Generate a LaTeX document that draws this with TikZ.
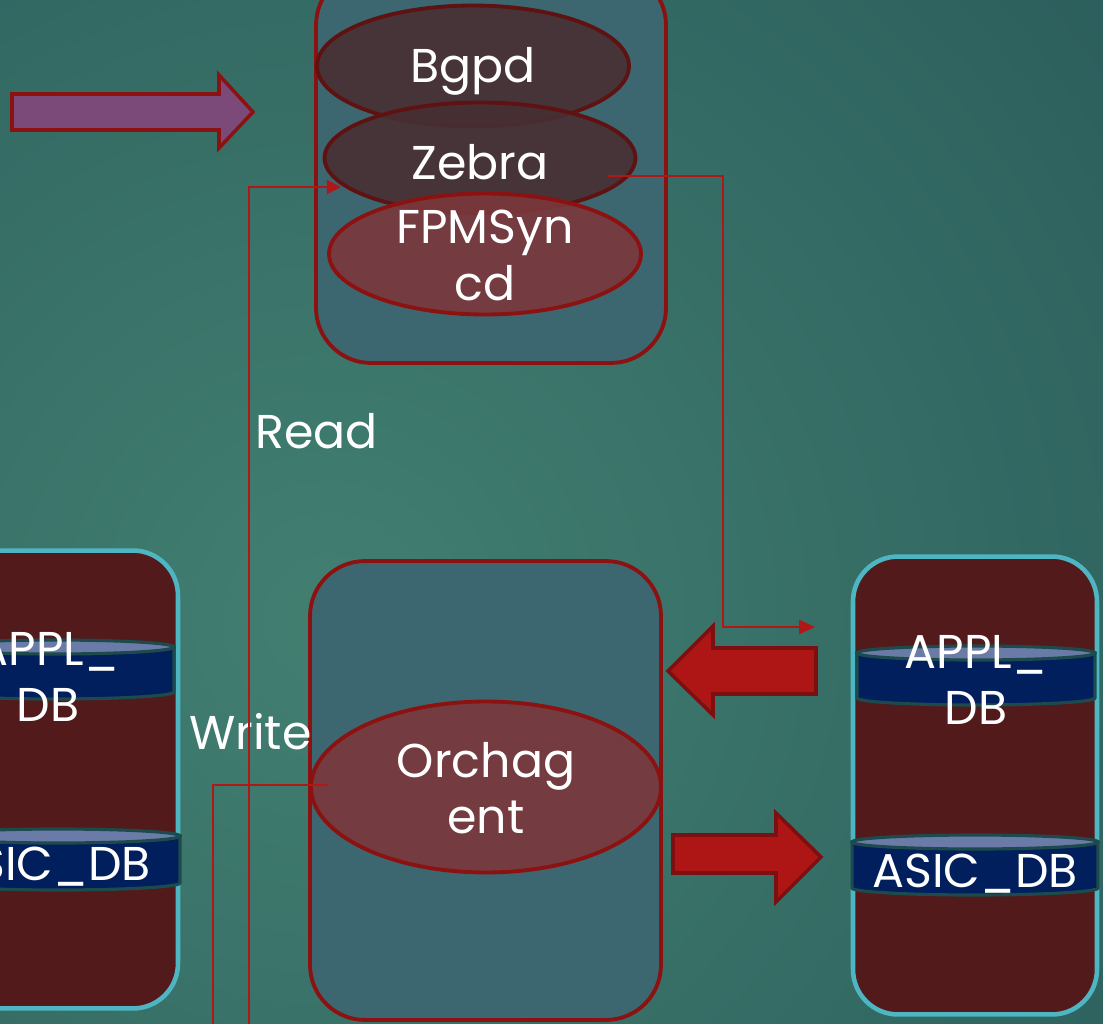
\documentclass[tikz,border=0pt]{standalone}
\usepackage{fontspec}
\setmainfont{Poppins}
\usepackage{tikz}
\usetikzlibrary{shapes,shapes.geometric,arrows.meta,calc,positioning}
\definecolor{bgin}{HTML}{427F71}
\definecolor{bgout}{HTML}{1E4B50}
\definecolor{ctlfill}{HTML}{3D6770}
\definecolor{ctlred}{HTML}{8C1212}
\definecolor{procdark}{HTML}{472F33}
\definecolor{procedge}{HTML}{5E1212}
\definecolor{proclight}{HTML}{7B383B}
\definecolor{dbfill}{HTML}{521A1A}
\definecolor{dbedge}{HTML}{4DB6C2}
\definecolor{bandtop}{HTML}{6A7BA8}
\definecolor{bandbody}{HTML}{001F5C}
\definecolor{bandedge}{HTML}{1D4B4D}
\definecolor{linkred}{HTML}{B01818}
\definecolor{bigred}{HTML}{AE1515}
\definecolor{bigredge}{HTML}{7C1010}
\definecolor{purp}{HTML}{7B4A78}
\tikzset{
  ctlbox/.style={draw=ctlred, line width=2.2pt, fill=ctlfill, rounded corners=1.1cm,
  inner sep=0pt},
  dbbox/.style={draw=dbedge, line width=2.6pt, fill=dbfill, rounded corners=0.9cm,
  minimum width=4.88cm, minimum height=9.16cm, inner sep=0pt},
  procdk/.style={ellipse, draw=procedge, line width=2.2pt, fill=procdark,
  fill opacity=0.9, inner sep=0pt},
  proclt/.style={ellipse, draw=ctlred, line width=2.2pt, fill=proclight,
  fill opacity=0.9, inner sep=0pt},
  band/.style={draw=bandedge, line width=1.8pt, fill=bandbody},
  bandlid/.style={draw=bandedge, line width=1.8pt, fill=bandtop},
  lbl/.style={text=white, font=\fontsize{27}{32}\selectfont, align=center,
  inner sep=0pt},
  fatarrow/.style={line width=2pt, draw=bigredge, fill=bigred, line join=miter},
  link/.style={draw=linkred, line width=1.1pt}
}

\begin{document}
\begin{tikzpicture}[x=0.02cm,y=-0.02cm]
\useasboundingbox (0,0) rectangle (1103,1024);
\clip (0,0) rectangle (1103,1024);
\shade[inner color=bgin, outer color=bgout] (-1270,-980) rectangle (1930,2220);

% control plane box
\node (ctl) [ctlbox, minimum width=7cm, minimum height=7.86cm] at (491,166.5) {};
\node (bgpd) [procdk, minimum width=6.24cm, minimum height=2.42cm] at (473,66) {};
\node (bgpdT) [lbl] at (473,71.5) {Bgpd};
\node (zebra) [procdk, minimum width=6.22cm, minimum height=2.22cm] at (480,158) {};
\node (zebraT) [lbl] at (480,162.5) {Zebra};
\node (fpm) [proclt, minimum width=6.24cm, minimum height=2.42cm] at (485,254) {};
\node (fpmT) [lbl] at (485,255.5) {FPMSyn\\cd};

% input arrow
\draw[fatarrow, fill=purp, draw=ctlred] (12,94) -- (219,94) -- (219,75) -- (253,112)
  -- (219,148) -- (219,130) -- (12,130) -- cycle;

% swss box
\node (swss) [ctlbox, minimum width=7.02cm, minimum height=9.18cm] at (485.5,790.5) {};
\node (orch) [proclt, minimum width=7cm, minimum height=3.42cm] at (486,787) {};
\node (orchT) [lbl] at (486,788.5) {Orchag\\ent};

% redis boxes
\node (dbL) [dbbox] at (56,779.5) {};
\node (dbR) [dbbox] at (975,785.5) {};

% left db bands
\path[band] (-64,647) -- (-64,692) arc[start angle=180, end angle=360,
  x radius=2.38cm, y radius=0.14cm] -- (174,647) -- cycle;
\path[bandlid] (55,647) ellipse [x radius=2.38cm, y radius=0.14cm];
\path[band] (-64,836) -- (-64,883) arc[start angle=180, end angle=360,
  x radius=2.44cm, y radius=0.14cm] -- (180,836) -- cycle;
\path[bandlid] (58,836) ellipse [x radius=2.44cm, y radius=0.14cm];
\node (applL) [lbl] at (48,677) {APPL\_\\DB};
\node (asicL) [lbl] at (48,867) {ASIC\_DB};

% right db bands
\path[band] (857,653) -- (857,698) arc[start angle=180, end angle=360,
  x radius=2.38cm, y radius=0.14cm] -- (1095,653) -- cycle;
\path[bandlid] (976,653) ellipse [x radius=2.38cm, y radius=0.14cm];
\path[band] (852,842) -- (852,888) arc[start angle=180, end angle=360,
  x radius=2.46cm, y radius=0.14cm] -- (1098,842) -- cycle;
\path[bandlid] (975,842) ellipse [x radius=2.46cm, y radius=0.14cm];
\node (applR) [lbl] at (976,680) {APPL\_\\DB};
\node (asicR) [lbl] at (975,874) {ASIC\_DB};

% big arrows
\draw[fatarrow] (816,648) -- (713,648) -- (713,626) -- (668,671) -- (713,715)
  -- (713,694) -- (816,694) -- cycle;
\draw[fatarrow] (673,835) -- (776,835) -- (776,813) -- (821,857) -- (776,902)
  -- (776,873) -- (673,873) -- cycle;

% labels
\node (readT) [lbl] at (316.5,431.5) {Read};
\node (writeT) [lbl] at (250.5,731.5) {Write};

% thin links
\coordinate (zebraOut) at (608,176);
\coordinate (applIn) at (815,627);
\coordinate (readFoot) at (249,1030);
\coordinate (zebraIn) at (341,187);
\coordinate (orchOut) at (328,785);
\coordinate (writeFoot) at (213,1030);
\draw[link, -{Triangle[length=9pt,width=8pt]}] (zebraOut) -- ++(115,0) |- (applIn);
\draw[link, -{Triangle[length=8pt,width=8pt]}] (readFoot) |- (zebraIn);
\draw[link] (orchOut) -| (writeFoot);
\end{tikzpicture}
\end{document}
